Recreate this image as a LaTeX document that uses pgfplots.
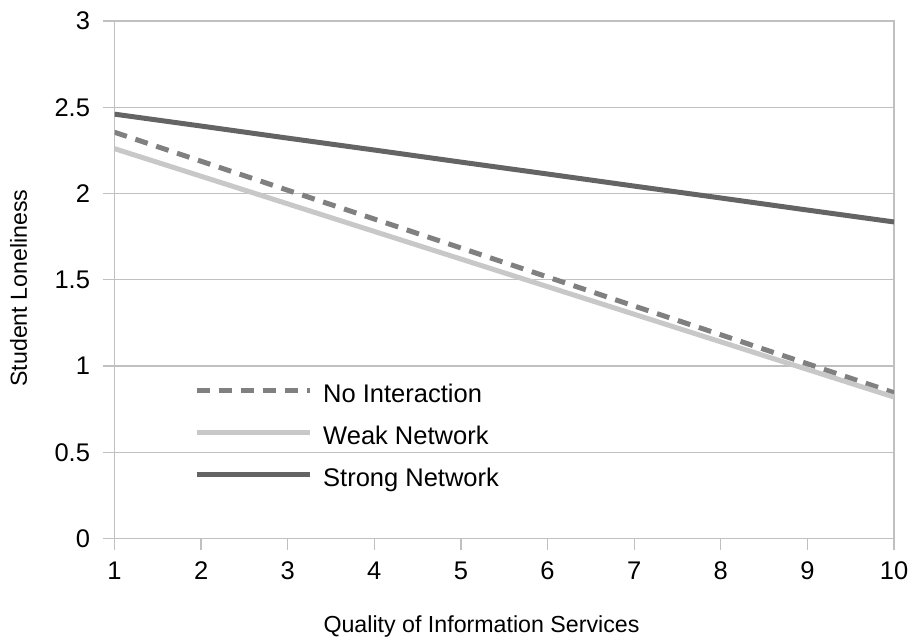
\documentclass[border=0pt]{standalone}
\usepackage{fontspec}
\setmainfont{Liberation Sans}
\usepackage{pgfplots}
\pgfplotsset{compat=1.18}
\definecolor{gridc}{HTML}{C0C0C0}
\definecolor{noint}{HTML}{808080}
\definecolor{weak}{HTML}{C8C8C8}
\definecolor{strong}{HTML}{646464}
\begin{document}
\begin{tikzpicture}
\begin{axis}[
  name=ax,
  scale only axis,
  width=779.5pt, height=517.5pt,
  xmin=1, xmax=10, ymin=0, ymax=3,
  xtick={1,2,...,10},
  ytick={0,0.5,1,1.5,2,2.5,3},
  yticklabels={0,0.5,1,1.5,2,2.5,3},
  xtick pos=lower, ytick pos=left,
  tick align=outside,
  major tick length=11pt,
  tick style={gridc, line width=1.3pt},
  axis line style={gridc, line width=1.3pt},
  ymajorgrids,
  grid style={gridc, line width=1.3pt},
  /pgf/number format/assume math mode=true,
  ticklabel style={font=\fontsize{25.5}{30}\selectfont, text=black},
  yticklabel style={xshift=-10pt},
  xticklabel style={yshift=-9pt},
  xlabel={Quality of Information Services},
  ylabel={Student Loneliness},
  xlabel style={font=\fontsize{23.2}{28}\selectfont, at={(axis description cs:0.4708,0)}, anchor=base, yshift=-93.5pt},
  ylabel style={font=\fontsize{23.2}{28}\selectfont, at={(axis description cs:0,0.484)}, anchor=center, yshift=96pt},
  legend image code/.code={\draw[#1] (0pt,12pt) -- (113pt,12pt);},
  legend style={draw=none, fill=none, font=\fontsize{25.5}{30}\selectfont,
    at={(axis description cs:0.102,0.298)}, anchor=north west,
    inner sep=0pt, row sep=18pt, column sep=11pt,
    nodes={inner sep=0pt, anchor=base west, text height=18pt, text depth=6pt}},
  legend cell align=left,
]
\addplot[noint, line width=5pt, dash pattern=on 13pt off 9pt] coordinates {
(1,2.355) (2,2.187) (3,2.019) (4,1.852) (5,1.684) (6,1.516) (7,1.348) (8,1.181) (9,1.013) (10,0.845)};
\addlegendentry{No Interaction}
\addplot[weak, line width=5pt] coordinates {
(1,2.26) (2,2.10) (3,1.94) (4,1.78) (5,1.62) (6,1.46) (7,1.30) (8,1.14) (9,0.98) (10,0.82)};
\addlegendentry{Weak Network}
\addplot[strong, line width=5pt] coordinates {
(1,2.46) (2,2.391) (3,2.321) (4,2.252) (5,2.182) (6,2.113) (7,2.043) (8,1.974) (9,1.904) (10,1.835)};
\addlegendentry{Strong Network}
\end{axis}
\pgfresetboundingbox
\path ([shift={(-114.5pt,-97.5pt)}]ax.south west) rectangle ([shift={(16pt,21pt)}]ax.north east);
\end{tikzpicture}
\end{document}
